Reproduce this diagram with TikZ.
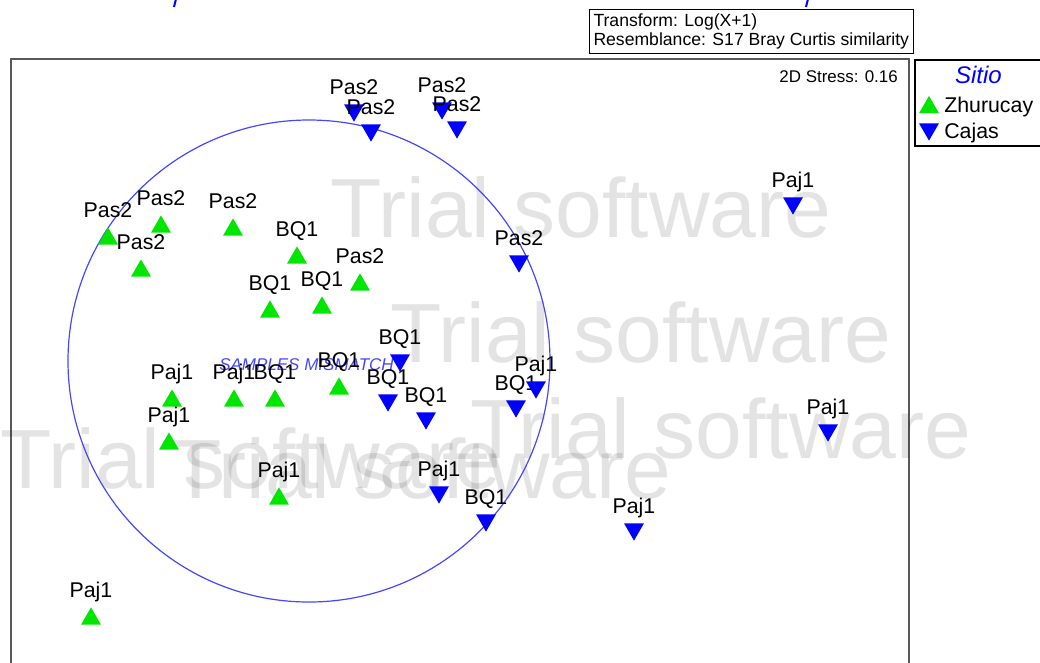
\documentclass[tikz,border=0pt]{standalone}
\usepackage{fontspec}
\setmainfont{Liberation Sans}
\usetikzlibrary{shapes.geometric}
\definecolor{zhugreen}{RGB}{0,230,0}
\definecolor{cajblue}{RGB}{0,0,255}
\definecolor{ringblue}{RGB}{70,70,255}
\tikzset{
    tri/.style={regular polygon, regular polygon sides=3, minimum size=17.25pt, inner sep=0pt},
    lbl/.style={font=\fontsize{16}{18}\selectfont, inner sep=0pt, text depth=0pt, yshift=7pt},
    zhu/.style={tri, fill=zhugreen, yshift=-2.16pt, label={[lbl]above:#1}},
    caj/.style={tri, fill=cajblue, shape border rotate=180, yshift=2.16pt, label={[lbl]above:#1}},
    wm/.style={anchor=base west, inner sep=0pt, text=black, text opacity=0.11, font=\fontsize{63}{63}\selectfont}
}
\begin{document}
\begin{tikzpicture}[x=0.75pt, y=-0.75pt]
            \useasboundingbox (0,0) rectangle (1040,662);
            \clip (0,0) rectangle (1040,662);
            \draw[cajblue, line width=1.5pt] (176,-1) -- (174,7);
            \draw[cajblue, line width=1.5pt] (808,-1) -- (806,7);
            \node[draw, line width=0.75pt, anchor=north west, align=left, inner xsep=3pt, inner ysep=3pt, font=\fontsize{13.2}{14.8}\selectfont] (info) at (589,9){Transform: Log(X+1)\\Resemblance: S17 Bray Curtis similarity};
            \draw[draw=black!65, line width=1.5pt] (11,59) rectangle (909,690);
            \draw[line width=1pt] (915,60) rectangle (1045,146);
            \node[wm] (wm1) at (330,237){Trial software};
            \node[wm] (wm2) at (390,362){Trial software};
            \node[wm] (wm3) at (0,488){Trial software};
            \node[wm] (wm4) at (170,498){Trial software};
            \node[wm] (wm5) at (470,458){Trial software};
            \node[anchor=base east, inner sep=0pt, font=\fontsize{12.7}{14}\selectfont] (stress) at (898,82){2D Stress: 0.16};
            \draw[ringblue, line width=0.9pt] (309,361) circle (241);
            \node[anchor=base west, inner sep=0pt, text=ringblue, font=\fontsize{12.75}{14}\selectfont\itshape] (mismatch) at (219,370){SAMPLES MISMATCH};
            \node[zhu=Pas2] (g1) at (108,236){};
            \node[zhu=Pas2] (g2) at (161,224){};
            \node[zhu=Pas2] (g3) at (233,227){};
            \node[zhu=Pas2] (g4) at (141,268){};
            \node[zhu=BQ1] (g5) at (297,255){};
            \node[zhu=Pas2] (g6) at (360,282){};
            \node[zhu=BQ1] (g7) at (322,305){};
            \node[zhu=BQ1] (g8) at (270,309){};
            \node[zhu=Paj1] (g9) at (172,398){};
            \node[zhu=Paj1] (g10) at (234,398){};
            \node[zhu=BQ1] (g11) at (275,398){};
            \node[zhu=BQ1] (g12) at (339,386){};
            \node[zhu=Paj1] (g13) at (169,441){};
            \node[zhu=Paj1] (g14) at (279,496){};
            \node[zhu=Paj1] (g15) at (91,616){};
            \node[caj=Pas2] (c1) at (354,113){};
            \node[caj=Pas2] (c2) at (371,133){};
            \node[caj=Pas2] (c3) at (442,111){};
            \node[caj=Pas2] (c4) at (457,130){};
            \node[caj=Paj1] (c5) at (793,206){};
            \node[caj=Pas2] (c6) at (519,264){};
            \node[caj=BQ1] (c7) at (400,363){};
            \node[caj=BQ1] (c8) at (388,403){};
            \node[caj=BQ1] (c9) at (426,421){};
            \node[caj=BQ1] (c10) at (516,409){};
            \node[caj=Paj1] (c11) at (536,390){};
            \node[caj=Paj1] (c12) at (828,433){};
            \node[caj=Paj1] (c13) at (439,495){};
            \node[caj=BQ1] (c14) at (486,523){};
            \node[caj=Paj1] (c15) at (634,532){};
            \node[anchor=base, inner sep=0pt, text=cajblue, font=\fontsize{18}{20}\selectfont\itshape] (sitio) at (978.5,83){Sitio};
            \node[tri, fill=zhugreen, yshift=-2.16pt] (keyzhu) at (929,104.5){};
            \node[anchor=base west, inner sep=0pt, font=\fontsize{16}{18}\selectfont] (keyzhutxt) at (944,112){Zhurucay};
            \node[tri, fill=cajblue, shape border rotate=180, yshift=2.16pt] (keycaj) at (929,132){};
            \node[anchor=base west, inner sep=0pt, font=\fontsize{16}{18}\selectfont] (keycajtxt) at (944,138){Cajas};
        \end{tikzpicture}
\end{document}
